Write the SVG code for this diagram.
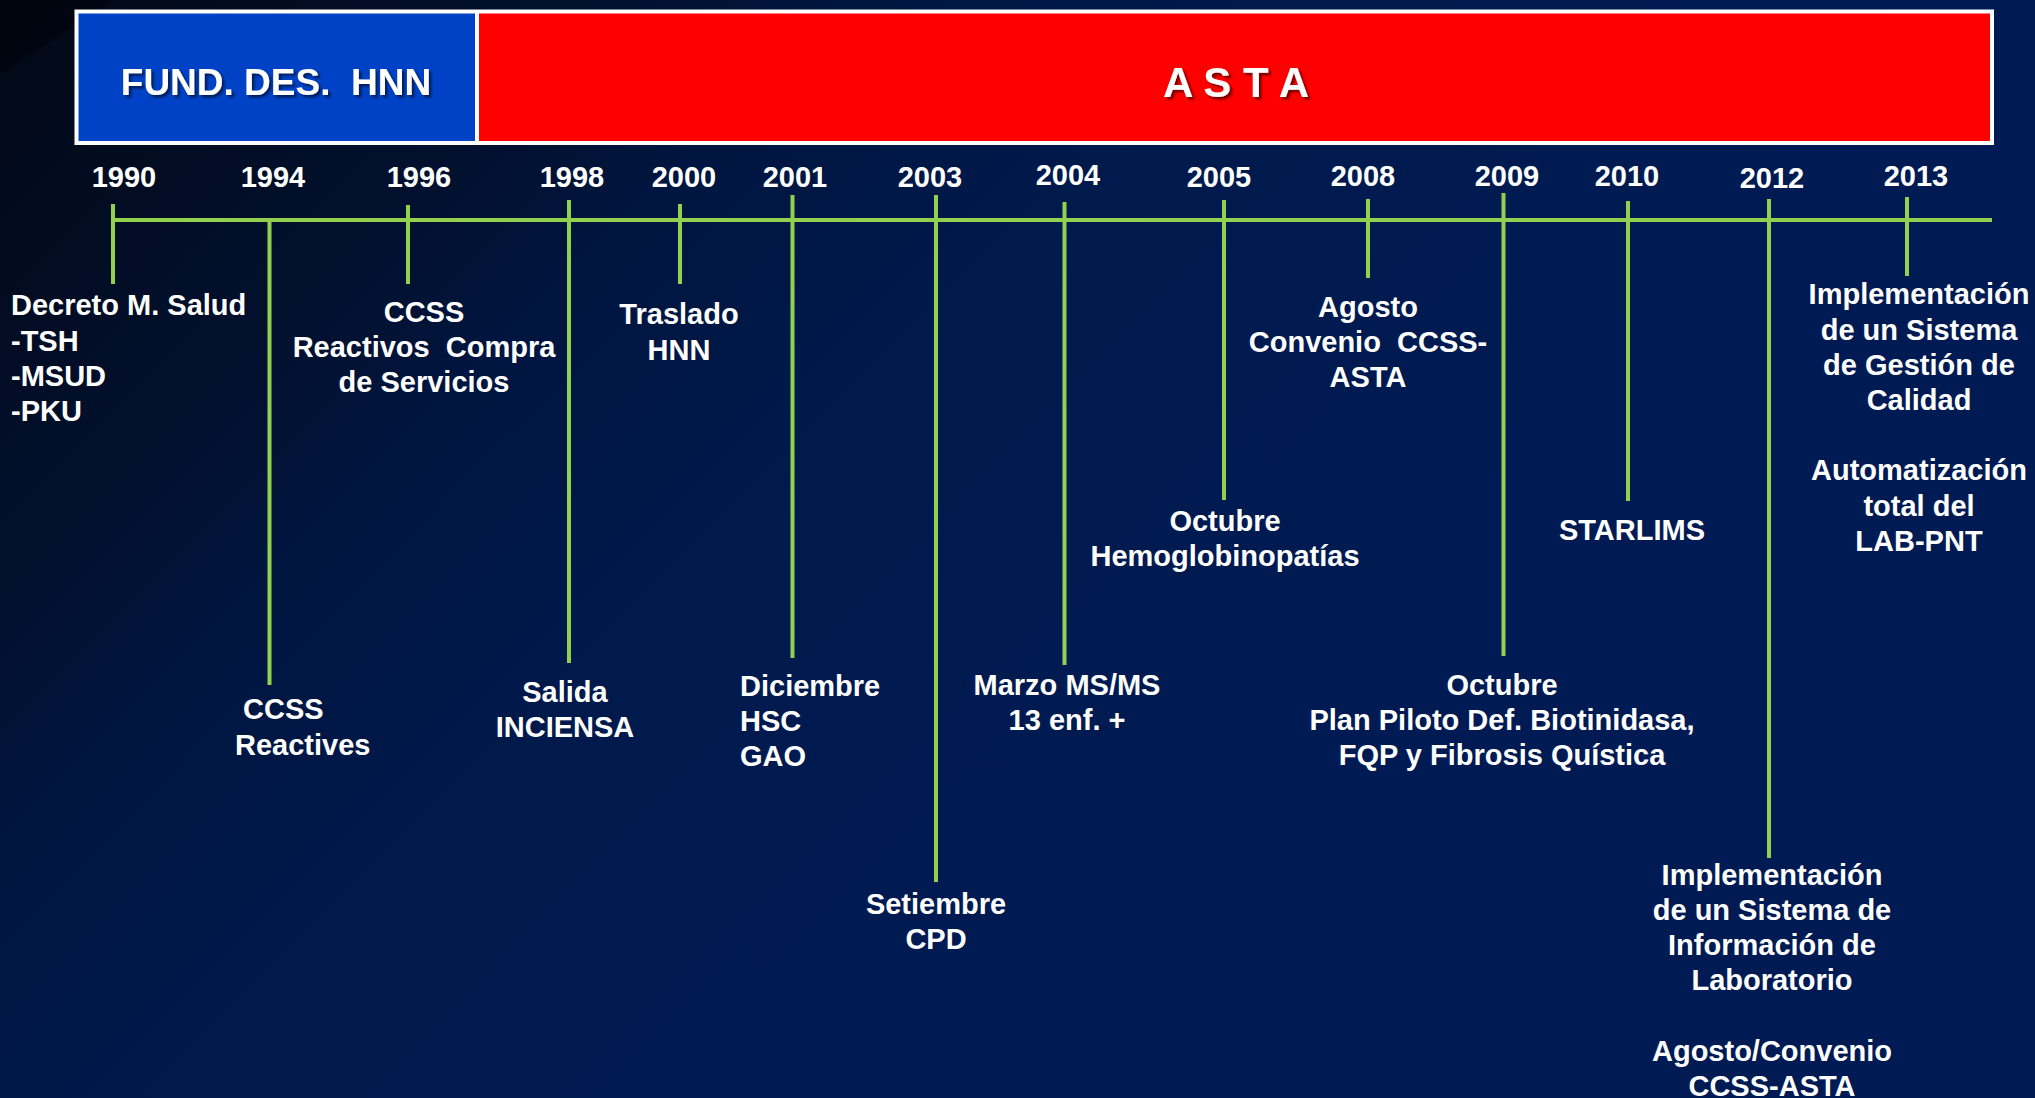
<svg xmlns="http://www.w3.org/2000/svg" width="2035" height="1098" viewBox="0 0 2035 1098">
  <defs>
    <linearGradient id="bg" gradientUnits="userSpaceOnUse" x1="0" y1="0" x2="1000" y2="1000">
      <stop offset="0" stop-color="#020814"/>
      <stop offset="0.35" stop-color="#021233"/>
      <stop offset="0.42" stop-color="#00153F"/>
      <stop offset="0.65" stop-color="#001A4D"/>
      <stop offset="1" stop-color="#001B53"/>
    </linearGradient>
    <filter id="shadow" x="-10%" y="-30%" width="120%" height="160%">
      <feDropShadow dx="2.5" dy="2.5" stdDeviation="1.2" flood-color="#000000" flood-opacity="0.55"/>
    </filter>
  </defs>
  <style>
    .t { font-family: "Liberation Sans", Arial, Helvetica, sans-serif; font-weight: bold; fill: #ffffff; white-space: pre; }
    .lbl { font-size: 29px; }
    .yr { font-size: 29px; text-anchor: middle; }
    .mid { text-anchor: middle; }
    .hdr { font-size: 37px; text-anchor: middle; filter: url(#shadow); }
    .axis line { stroke: #92D050; stroke-width: 4; }
  </style>

  <!-- background -->
  <rect x="0" y="0" width="2035" height="1098" fill="url(#bg)"/>
  <polygon points="0,0 112,0 0,75" fill="#000309" opacity="0.55"/>

  <!-- period header -->
  <g id="period-fund">
    <rect x="76" y="11" width="401" height="132" fill="#0042C6"/>
    <text class="t hdr" x="276" y="94.5" xml:space="preserve">FUND. DES.  HNN</text>
  </g>
  <g id="period-asta">
    <rect x="477" y="11" width="1515" height="132" fill="#FF0000"/>
    <text class="t hdr" x="1236" y="97" style="font-size:42px" xml:space="preserve">A S T A</text>
  </g>
  <g id="period-frame" fill="none" stroke="#ffffff" stroke-width="4">
    <rect x="76.5" y="11.5" width="1915.5" height="131.5"/>
    <line x1="477" y1="11" x2="477" y2="143"/>
  </g>

  <!-- timeline axis and event ticks -->
  <g id="connectors" class="axis">
    <line x1="111" y1="220" x2="1992" y2="220"/>
    <line x1="113" y1="204" x2="113" y2="284"/>
    <line x1="269.5" y1="218" x2="269.5" y2="685"/>
    <line x1="408" y1="205" x2="408" y2="284"/>
    <line x1="569" y1="200" x2="569" y2="663"/>
    <line x1="680" y1="204" x2="680" y2="284"/>
    <line x1="792.5" y1="195" x2="792.5" y2="658"/>
    <line x1="936" y1="195" x2="936" y2="882"/>
    <line x1="1064.5" y1="202" x2="1064.5" y2="665"/>
    <line x1="1224" y1="200" x2="1224" y2="500"/>
    <line x1="1368" y1="199" x2="1368" y2="278"/>
    <line x1="1503.5" y1="193" x2="1503.5" y2="656"/>
    <line x1="1628" y1="201" x2="1628" y2="501"/>
    <line x1="1769" y1="199" x2="1769" y2="858"/>
    <line x1="1907" y1="197" x2="1907" y2="276"/>
  </g>

  <!-- events -->
  <g id="ev-1990" class="t lbl">
    <text class="yr" x="124" y="187">1990</text>
    <text x="11" y="315">Decreto M. Salud</text>
    <text x="11" y="351">-TSH</text>
    <text x="11" y="386">-MSUD</text>
    <text x="11" y="421">-PKU</text>
  </g>
  <g id="ev-1994" class="t lbl">
    <text class="yr" x="273" y="187">1994</text>
    <text x="243" y="719">CCSS</text>
    <text x="235" y="755">Reactives</text>
  </g>
  <g id="ev-1996" class="t lbl mid">
    <text class="yr" x="419" y="187">1996</text>
    <text x="424" y="322">CCSS</text>
    <text x="424" y="357" xml:space="preserve">Reactivos  Compra</text>
    <text x="424" y="392">de Servicios</text>
  </g>
  <g id="ev-1998" class="t lbl mid">
    <text class="yr" x="572" y="187">1998</text>
    <text x="565" y="702">Salida</text>
    <text x="565" y="737">INCIENSA</text>
  </g>
  <g id="ev-2000" class="t lbl mid">
    <text class="yr" x="684" y="187">2000</text>
    <text x="679" y="324">Traslado</text>
    <text x="679" y="360">HNN</text>
  </g>
  <g id="ev-2001" class="t lbl">
    <text class="yr" x="795" y="187">2001</text>
    <text x="740" y="696">Diciembre</text>
    <text x="740" y="731">HSC</text>
    <text x="740" y="766">GAO</text>
  </g>
  <g id="ev-2003" class="t lbl mid">
    <text class="yr" x="930" y="187">2003</text>
    <text x="936" y="914">Setiembre</text>
    <text x="936" y="949">CPD</text>
  </g>
  <g id="ev-2004" class="t lbl mid">
    <text class="yr" x="1068" y="185">2004</text>
    <text x="1067" y="695">Marzo MS/MS</text>
    <text x="1067" y="730">13 enf. +</text>
  </g>
  <g id="ev-2005" class="t lbl mid">
    <text class="yr" x="1219" y="187">2005</text>
    <text x="1225" y="531">Octubre</text>
    <text x="1225" y="566">Hemoglobinopatías</text>
  </g>
  <g id="ev-2008" class="t lbl mid">
    <text class="yr" x="1363" y="186">2008</text>
    <text x="1368" y="317">Agosto</text>
    <text x="1368" y="352" xml:space="preserve">Convenio  CCSS-</text>
    <text x="1368" y="387">ASTA</text>
  </g>
  <g id="ev-2009" class="t lbl mid">
    <text class="yr" x="1507" y="186">2009</text>
    <text x="1502" y="695">Octubre</text>
    <text x="1502" y="730">Plan Piloto Def. Biotinidasa,</text>
    <text x="1502" y="765">FQP y Fibrosis Quística</text>
  </g>
  <g id="ev-2010" class="t lbl mid">
    <text class="yr" x="1627" y="186">2010</text>
    <text x="1632" y="540">STARLIMS</text>
  </g>
  <g id="ev-2012" class="t lbl mid">
    <text class="yr" x="1772" y="188">2012</text>
    <text x="1772" y="885">Implementación</text>
    <text x="1772" y="920">de un Sistema de</text>
    <text x="1772" y="955">Información de</text>
    <text x="1772" y="990">Laboratorio</text>
    <text x="1772" y="1061">Agosto/Convenio</text>
    <text x="1772" y="1096">CCSS-ASTA</text>
  </g>
  <g id="ev-2013" class="t lbl mid">
    <text class="yr" x="1916" y="186">2013</text>
    <text x="1919" y="304">Implementación</text>
    <text x="1919" y="340">de un Sistema</text>
    <text x="1919" y="375">de Gestión de</text>
    <text x="1919" y="410">Calidad</text>
    <text x="1919" y="480">Automatización</text>
    <text x="1919" y="516">total del</text>
    <text x="1919" y="551">LAB-PNT</text>
  </g>
</svg>
